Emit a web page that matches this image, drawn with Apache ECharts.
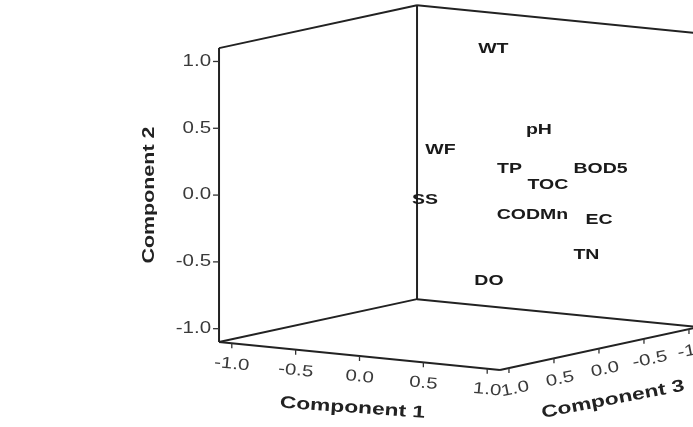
<!DOCTYPE html>
<html>
<head>
<meta charset="utf-8">
<style type="text/css">
html, body { margin: 0; padding: 0; background: #fff; }
#chart { width: 693px; height: 427px; }
</style>
<script src="https://cdn.jsdelivr.net/npm/echarts@6/dist/echarts.min.js"></script>
</head>
<body>
<div id="chart"></div>
<script>
// component loadings (rotated), one entry per variable
var names = ['WT', 'pH', 'WF', 'TP', 'TOC', 'BOD5', 'SS', 'CODMn', 'EC', 'TN', 'DO'];
var comp1 = [-0.08, 0.63, 0.07, 0.54, 0.70, 0.83, 0.16, 0.65, 0.89, 0.72, 0.45];
var comp2 = [0.96, 0.49, 0.33, 0.22, 0.09, 0.16, 0.01, -0.13, -0.20, -0.49, -0.61];
var comp3 = [-0.50, 0.00, 0.30, 0.20, 0.00, -0.40, 0.60, 0.10, -0.30, -0.40, 0.30];

var tickValues = [-1.0, -0.5, 0.0, 0.5, 1.0];
var tickLabels = ['-1.0', '-0.5', '0.0', '0.5', '1.0'];
var axisNames = ['Component 1', 'Component 2', 'Component 3'];

var R = 1.1; // half size of the cube
var FONT = '"Liberation Sans", Arial, sans-serif';

// oblique view of the cube: component 1 to the right, 2 up, 3 towards the viewer
function project(p) {
    return [
        458.5 + 127.7 * p[0] - 90 * p[2],
        187.6 + 12.7 * p[0] - 133.6 * p[1] + 19.5 * p[2]
    ];
}

var edges = [
    [-R, -R, R, -R, R, R],
    [-R, -R, -R, -R, R, -R],
    [R, -R, -R, R, R, -R],
    [-R, R, R, -R, R, -R],
    [-R, R, -R, R, R, -R],
    [-R, -R, R, -R, -R, -R],
    [-R, -R, -R, R, -R, -R],
    [-R, -R, R, R, -R, R],
    [R, -R, R, R, -R, -R]
];

var ticks = [];
[0, 1, 2].forEach(function(axis) {
    tickValues.forEach(function(v, i) {
        ticks.push([axis, v, i]);
    });
});

var points = [];
names.forEach(function(n, i) {
    points.push([comp1[i], comp2[i], comp3[i]]);
});

function renderEdge(params, api) {
    var a = api.coord(project([api.value(0), api.value(1), api.value(2)]));
    var b = api.coord(project([api.value(3), api.value(4), api.value(5)]));
    return {
        type: 'line',
        shape: { x1: a[0], y1: a[1], x2: b[0], y2: b[1] },
        style: { stroke: '#222', lineWidth: 2 }
    };
}

function renderTick(params, api) {
    var axis = api.value(0), v = api.value(1);
    var label = tickLabels[api.value(2)];
    var p, tx, ty, lx, ly, rot = 0, align = 'center';
    if (axis === 0) {
        p = [v, -R, R]; tx = 0; ty = 5; lx = 0; ly = 21; rot = -0.1;
    } else if (axis === 1) {
        p = [-R, v, R]; tx = -6; ty = 0; lx = -8; ly = 0; align = 'right';
    } else {
        p = [R, -R, v]; tx = 0; ty = 5; lx = 6; ly = 21; rot = 0.2;
    }
    var c = api.coord(project(p));
    return {
        type: 'group',
        children: [{
            type: 'line',
            shape: { x1: c[0], y1: c[1], x2: c[0] + tx, y2: c[1] + ty },
            style: { stroke: '#333', lineWidth: 1.3 }
        }, {
            type: 'text',
            x: c[0] + lx,
            y: c[1] + ly,
            rotation: rot,
            scaleX: 1.28,
            style: {
                text: label,
                fill: '#3a3a3a',
                fontSize: 16,
                fontFamily: FONT,
                align: align,
                verticalAlign: 'middle'
            }
        }]
    };
}

function renderTitle(params, api) {
    var axis = params.dataIndex;
    var p, dx, dy, rot, size = 17;
    if (axis === 0) {
        p = [0, -R, R]; dx = -7; dy = 52; rot = -0.07;
    } else if (axis === 1) {
        p = [-R, 0, R]; dx = -69; dy = 0; rot = Math.PI / 2; size = 16;
    } else {
        p = [R, -R, 0]; dx = 14; dy = 51; rot = 0.19;
    }
    var c = api.coord(project(p));
    return {
        type: 'text',
        x: c[0] + dx,
        y: c[1] + dy,
        rotation: rot,
        scaleX: 1.34,
        style: {
            text: axisNames[axis],
            fill: '#222',
            fontSize: size,
            fontWeight: 'bold',
            fontFamily: FONT,
            align: 'center',
            verticalAlign: 'middle'
        }
    };
}

function renderPoint(params, api) {
    var c = api.coord(project([api.value(0), api.value(1), api.value(2)]));
    return {
        type: 'text',
        x: c[0],
        y: c[1],
        scaleX: 1.3,
        style: {
            text: names[params.dataIndex],
            fill: '#1a1a1a',
            fontSize: 15,
            fontWeight: 'bold',
            fontFamily: FONT,
            align: 'center',
            verticalAlign: 'middle'
        }
    };
}

var chart = echarts.init(document.getElementById('chart'));
var option = {
    backgroundColor: '#fff',
    animation: false,
    grid: { left: 0, right: 0, top: 0, bottom: 0 },
    xAxis: { type: 'value', min: 0, max: 693, show: false },
    yAxis: { type: 'value', min: 0, max: 427, inverse: true, show: false },
    series: [
        { type: 'custom', name: 'box', renderItem: renderEdge, data: edges, silent: true },
        { type: 'custom', name: 'ticks', renderItem: renderTick, data: ticks, silent: true },
        { type: 'custom', name: 'titles', renderItem: renderTitle, data: [[0, 0], [1, 0], [2, 0]], silent: true },
        { type: 'custom', name: 'loadings', renderItem: renderPoint, data: points }
    ]
};
chart.setOption(option);
</script>
</body>
</html>
